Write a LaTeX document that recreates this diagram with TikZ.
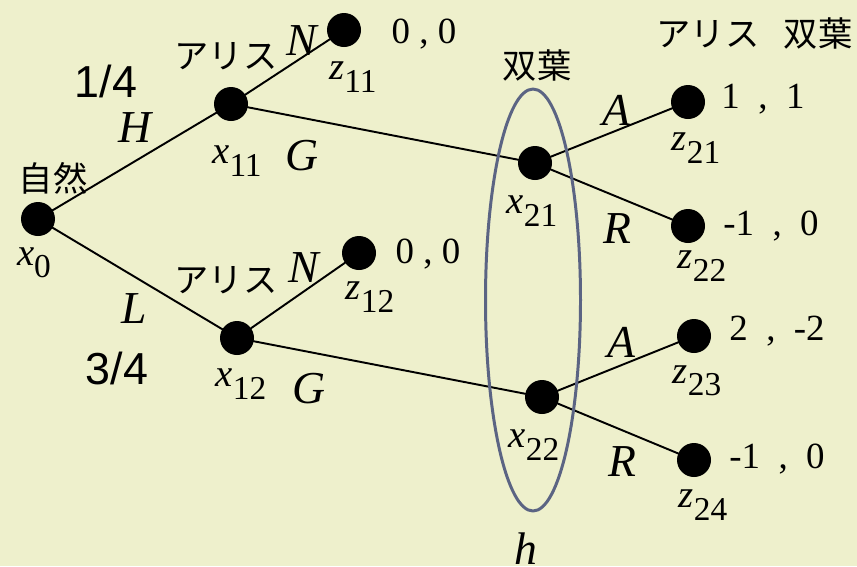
\documentclass[tikz,border=0pt]{standalone}
\usepackage{fontspec}
\setmainfont{Liberation Serif}
\newfontfamily\cjk{Noto Sans CJK JP}
\newfontfamily\arialfont{Liberation Sans}
\usetikzlibrary{positioning}
\definecolor{paper}{HTML}{EEF0CC}
\definecolor{slate}{HTML}{5B6483}
\newcommand{\vsub}[2]{\textit{#1}\raisebox{-7pt}{\fontsize{19}{20}\selectfont #2}}
\tikzset{
    every picture/.style={line cap=round,line join=round},
    decision/.style={circle,fill=black,minimum size=6.8mm,inner sep=0pt,outer sep=0pt},
    branch/.style={draw=black,line width=1.1pt},
    infoset/.style={draw=slate,line width=1.7pt},
    varlabel/.style={font=\fontsize{22}{24}\selectfont,inner sep=0pt},
    movelabel/.style={font=\fontsize{26}{28}\selectfont\itshape,inner sep=0pt},
    payoff/.style={font=\fontsize{21}{23}\selectfont,inner sep=0pt},
    playerlabel/.style={font=\cjk\fontsize{19.5}{22}\selectfont,inner sep=0pt},
    problabel/.style={font=\arialfont\fontsize{25.5}{28}\selectfont,inner sep=0pt}
}
\begin{document}
\begin{tikzpicture}[x=0.2mm,y=-0.2mm]
  \fill[paper] (0,0) rectangle (857,566);
  \useasboundingbox (0,0) rectangle (857,566);
  % decision nodes and outcomes
  \node[decision] (x0) at (38,219) {};
  \node[decision] (x11) at (231,104) {};
  \node[decision] (x12) at (237,338) {};
  \node[decision] (z11) at (344,30) {};
  \node[decision] (z12) at (359,253) {};
  \node[decision] (x21) at (535,163) {};
  \node[decision] (x22) at (542,397) {};
  \node[decision] (z21) at (688,102) {};
  \node[decision] (z22) at (688,226) {};
  \node[decision] (z23) at (694,336) {};
  \node[decision] (z24) at (694,460) {};
  % branches
  \draw[branch] (x0)--(x11);
  \draw[branch] (x0)--(x12);
  \draw[branch] (x11)--(z11);
  \draw[branch] (x11)--(x21);
  \draw[branch] (x12)--(z12);
  \draw[branch] (x12)--(x22);
  \draw[branch] (x21)--(z21);
  \draw[branch] (x21)--(z22);
  \draw[branch] (x22)--(z23);
  \draw[branch] (x22)--(z24);
  % information set
  \coordinate (hc) at (533,300);
  \draw[infoset] (hc) ellipse [x radius=0.95cm,y radius=4.22cm];
  \node[movelabel] (h) at (526,549) {h};
  % players
  \node[playerlabel] (nature) at (53,178) {自然};
  \node[playerlabel] (alice1) at (226,56) {アリス};
  \node[playerlabel] (alice2) at (226,280) {アリス};
  \node[playerlabel] (futaba) at (537,66) {双葉};
  \node[playerlabel] (headA) at (708,34) {アリス};
  \node[playerlabel] (headF) at (818,34) {双葉};
  % probabilities
  \node[problabel] (p14) at (106,81) {1/4};
  \node[problabel] (p34) at (117,368) {3/4};
  % moves
  \node[movelabel] (mH) at (135,128) {H};
  \node[movelabel] (mL) at (134,309) {L};
  \node[movelabel] (mN1) at (302,41) {N};
  \node[movelabel] (mG1) at (302,156) {G};
  \node[movelabel] (mN2) at (304,268) {N};
  \node[movelabel] (mG2) at (309,389) {G};
  \node[movelabel] (mA1) at (616,110) {A};
  \node[movelabel] (mR1) at (617,229) {R};
  \node[movelabel] (mA2) at (621,342) {A};
  \node[movelabel] (mR2) at (622,462) {R};
  % node names
  \node[varlabel] (lx0) at (34,263) {\vsub{x}{0}};
  \node[varlabel] (lx11) at (237,161) {\vsub{x}{11}};
  \node[varlabel] (lx12) at (241,384) {\vsub{x}{12}};
  \node[varlabel] (lz11) at (353,77) {\vsub{z}{11}};
  \node[varlabel] (lz12) at (370,297) {\vsub{z}{12}};
  \node[varlabel] (lx21) at (532,211) {\vsub{x}{21}};
  \node[varlabel] (lx22) at (534,445) {\vsub{x}{22}};
  \node[varlabel] (lz21) at (696,148) {\vsub{z}{21}};
  \node[varlabel] (lz22) at (702,266) {\vsub{z}{22}};
  \node[varlabel] (lz23) at (697,381) {\vsub{z}{23}};
  \node[varlabel] (lz24) at (703,505) {\vsub{z}{24}};
  % payoffs
  \node[payoff] (u11) at (424,34) {0 , 0};
  \node[payoff] (u12) at (428,254) {0 , 0};
  \node[payoff] (u21) at (763,99) {1\enspace,\enspace1};
  \node[payoff] (u22) at (771,226) {-1\enspace,\enspace0};
  \node[payoff] (u23) at (777,331) {2\enspace,\enspace-2};
  \node[payoff] (u24) at (777,459) {-1\enspace,\enspace0};
\end{tikzpicture}
\end{document}
